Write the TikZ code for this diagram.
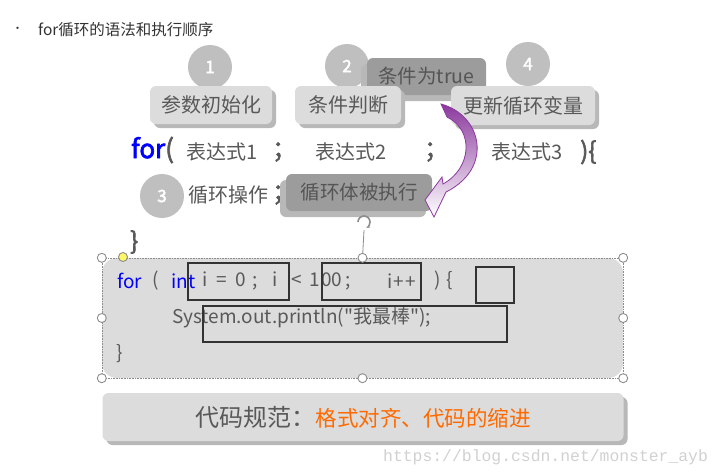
\documentclass[tikz,border=0pt]{standalone}
\usepackage{fontspec}
\setmainfont{Noto Sans CJK SC}[AutoFakeBold=2.5]
\newfontfamily\codefont{Noto Sans CJK SC}[Ligatures=TeXOff]
\newfontfamily\wmfont{Liberation Mono}
\usetikzlibrary{shadows, positioning, arrows.meta}

\definecolor{txtgray}{HTML}{595959}
\definecolor{txtdark}{HTML}{555555}
\definecolor{circgray}{HTML}{BFBFBF}
\definecolor{boxgray}{HTML}{DCDCDC}
\definecolor{shadowgray}{HTML}{B8B8B8}
\definecolor{boxdark}{HTML}{9C9C9C}
\definecolor{markdark}{HTML}{333333}
\definecolor{codeblue}{HTML}{0000FF}
\definecolor{codeorange}{HTML}{FF6A00}
\definecolor{handlegray}{HTML}{8C8C8C}
\definecolor{arrowpurple}{HTML}{8B3A9E}

\begin{document}
\begin{tikzpicture}[x=1pt, y=-1pt,
    numcircle/.style={circle, fill=circgray, minimum size=44pt, inner sep=0pt,
        text=white, font=\fontsize{17}{20}\selectfont\bfseries},
    lightbox/.style={rectangle, rounded corners=6pt, fill=boxgray, text=txtgray,
        inner sep=0pt, font=\fontsize{20}{24}\selectfont,
        drop shadow={shadow xshift=4pt, shadow yshift=-4pt, fill=shadowgray, opacity=1}},
    darkbox/.style={rectangle, rounded corners=6pt, fill=boxdark, text=txtdark,
        inner sep=0pt, font=\fontsize{19.5}{24}\selectfont,
        drop shadow={shadow xshift=-6pt, shadow yshift=-6pt, fill=shadowgray, opacity=1}},
    syn/.style={anchor=west, inner sep=0pt, text=txtgray, font=\fontsize{20}{24}\selectfont},
    synbold/.style={anchor=west, inner sep=0pt, text=txtgray, font=\fontsize{24}{28}\selectfont\bfseries},
    code/.style={anchor=west, inner sep=0pt, text=txtgray, font=\codefont\fontsize{19}{23}\selectfont},
    codebox/.style={rectangle, rounded corners=15pt, fill=boxgray, inner sep=0pt},
    markbox/.style={rectangle, draw=markdark, line width=2.6pt, inner sep=0pt},
    selframe/.style={draw=handlegray, densely dotted, line width=0.6pt},
    handle/.style={circle, draw=handlegray, fill=white, line width=0.9pt,
        minimum size=9pt, inner sep=0pt}
]
\useasboundingbox[fill=white] (0,0) rectangle (720,475);

% --- Título ---
\node[anchor=west, inner sep=0pt, text=markdark, font=\fontsize{11}{13}\selectfont] (dot) at (12,30) {•};
\node[anchor=west, inner sep=0pt, text=markdark, font=\fontsize{15.5}{18}\selectfont] (title) at (38,30) {for循环的语法和执行顺序};

% --- Números ---
\node[numcircle] (n1) at (210,67) {1};
\node[numcircle] (n2) at (347,66) {2};
\node[numcircle] (n4) at (528,64) {4};

% --- Cuadros de arriba ---
\node[darkbox, minimum width=119pt, minimum height=37pt] (istrue) at (426.5,76.5) {条件为true};
\node[lightbox, minimum width=122pt, minimum height=38pt] (init) at (211,105) {参数初始化};
\node[lightbox, minimum width=106pt, minimum height=38pt] (cond) at (348,105) {条件判断};
\node[lightbox, minimum width=144pt, minimum height=39pt] (update) at (523,105.5) {更新循环变量};

% --- Sintaxis ---
\node[synbold, font=\fontsize{26}{30}\selectfont\bfseries] (kwfor) at (131,150) {\textcolor{codeblue}{for}(};
\node[syn] (expr1) at (186,152) {表达式1};
\node[synbold] (semi1) at (272,152) {；};
\node[syn] (expr2) at (315,152) {表达式2};
\node[synbold] (semi2) at (424,152) {；};
\node[syn] (expr3) at (491,152) {表达式3};
\node[synbold] (open) at (580,152) {)\{};

\node[numcircle] (n3) at (162,196) {3};
\node[syn] (body) at (188,195) {循环操作};
\node[synbold] (semi3) at (272,195) {；};
\node[darkbox, minimum width=146pt, minimum height=37pt] (runs) at (359,192.5) {循环体被执行};

\node[synbold] (close) at (130,242) {\}};

% --- Flecha curva ---
\shade[top color=arrowpurple, bottom color=white, draw=arrowpurple, line width=0.8pt]
    (441,104) .. controls (482,115) and (494,168) .. (446,192)
    -- (434,217) -- (425,200) -- (442,177) -- (443,184)
    .. controls (472,168) and (474,130) .. (447,117) -- cycle;

% --- Código ---
\node[codebox, minimum width=521pt, minimum height=120pt] (codearea) at (362.5,318) {};
\draw[selframe] (codearea.north west) rectangle (codearea.south east);

\node[code, text=codeblue] (cfor) at (117,281) {for};
\node[code] (cpar) at (152,281) {(};
\node[code, text=codeblue] (cint) at (171,281) {int};
\node[code] (cinit) at (202,281) {i\hspace{9pt}=\hspace{9pt}0\hspace{6pt};\hspace{15pt}i};
\node[code] (ccond) at (291,281) {<\hspace{8pt}1\hspace{1pt}00\hspace{3pt};};
\node[code] (cinc) at (387,281) {i\hspace{1pt}+\hspace{2pt}+};
\node[code] (copen) at (434,281) {)\hspace{6pt}\{};
\node[code] (cprint) at (172,318) {System.out.println("我最棒");};
\node[code] (cclose) at (116,354) {\}};

\node[markbox, minimum width=101pt, minimum height=37pt] (markA) at (238.5,281.5) {};
\node[markbox, minimum width=99pt, minimum height=37pt] (markB) at (371.5,281.5) {};
\node[markbox, minimum width=38pt, minimum height=36pt] (markC) at (495,285) {};
\node[markbox, minimum width=304pt, minimum height=36pt] (markD) at (355,324) {};

% --- Asas de selección ---
\node[minimum size=16pt, inner sep=0pt] (rot) at (364,222) {};
\draw[handlegray, line width=0.8pt] (codearea.north) -- (rot.south);
\draw[handlegray, line width=1.6pt, -{Stealth[length=4pt]}]
    ([shift={(-6pt,0pt)}]rot.center) arc[start angle=180, end angle=-70, radius=6pt];
\foreach \a in {north west, north, north east, west, east, south west, south, south east}
    \node[handle] at (codearea.\a) {};
\node[handle, fill=yellow!60, draw=handlegray] (adj) at (123,257) {};

% --- Norma ---
\node[lightbox, minimum width=521pt, minimum height=48pt] (rule) at (363,417)
    {{\fontsize{24}{28}\selectfont 代码规范：}{\fontsize{21.5}{26}\selectfont\color{codeorange}格式对齐、代码的缩进}};

\node[anchor=west, inner sep=0pt, text=black!18, font=\wmfont\fontsize{16.4}{19}\selectfont] (mark) at (383,457) {https://blog.csdn.net/monster\_ayb};

\end{tikzpicture}
\end{document}
